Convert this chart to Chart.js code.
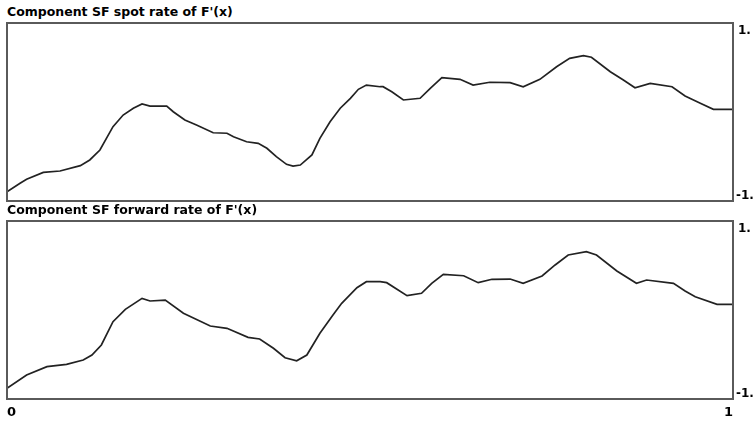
<!DOCTYPE html>
<html>
<head>
<meta charset="utf-8">
<script src="https://cdn.jsdelivr.net/npm/chart.js@4/dist/chart.umd.min.js"></script>
<style>
  html, body { margin: 0; padding: 0; background: #fff; }
  body { width: 755px; height: 422px; position: relative; overflow: hidden; }
  .panel { position: absolute; left: 0; width: 755px; height: 211px; }
  .title {
    position: absolute; left: 7px; margin: 0;
    font-family: "DejaVu Sans", sans-serif; font-weight: bold; font-size: 12.5px;
    line-height: 14px; color: #000; white-space: nowrap;
  }
</style>
</head>
<body>
<div class="title" id="t1" style="top:5px"></div>
<div class="panel" style="top:0"><canvas id="c1"></canvas></div>
<div class="title" id="t2" style="top:203px"></div>
<div class="panel" style="top:211px"><canvas id="c2"></canvas></div>
<script>
// Panel titles
const panelTitles = ["Component SF spot rate of F'(x)", "Component SF forward rate of F'(x)"];

// Axis ranges and labelled ticks
const xTickValues = [0, 1];
const xTickLabels = ['0', '1'];
const yTickValues = [-1, 1];
const yTickLabels = ['-1.', '1.'];

// Spot rate component
const spotX = [0.000, 0.018, 0.027, 0.050, 0.073, 0.101, 0.114, 0.128, 0.146, 0.160,
  0.174, 0.186, 0.197, 0.220, 0.229, 0.245, 0.261, 0.284, 0.303, 0.312,
  0.330, 0.346, 0.358, 0.371, 0.385, 0.394, 0.404, 0.420, 0.431, 0.445,
  0.459, 0.473, 0.484, 0.495, 0.514, 0.518, 0.530, 0.546, 0.569, 0.583,
  0.599, 0.624, 0.642, 0.665, 0.693, 0.711, 0.734, 0.757, 0.775, 0.794,
  0.805, 0.831, 0.849, 0.865, 0.886, 0.916, 0.934, 0.955, 0.973, 1.000];
const spotRate = [-0.896, -0.801, -0.756, -0.678, -0.663, -0.603, -0.539, -0.427, -0.165, -0.034,
  0.042, 0.090, 0.067, 0.067, 0.003, -0.090, -0.146, -0.233, -0.239, -0.278,
  -0.334, -0.352, -0.408, -0.502, -0.588, -0.607, -0.596, -0.483, -0.296, -0.109,
  0.042, 0.154, 0.255, 0.303, 0.284, 0.284, 0.228, 0.135, 0.154, 0.266,
  0.385, 0.367, 0.303, 0.334, 0.329, 0.284, 0.367, 0.509, 0.603, 0.633,
  0.615, 0.453, 0.360, 0.273, 0.322, 0.284, 0.180, 0.098, 0.030, 0.030];

// Forward rate component
const forwardX = [0.000, 0.027, 0.055, 0.082, 0.105, 0.117, 0.130, 0.146, 0.163, 0.186,
  0.197, 0.218, 0.243, 0.280, 0.303, 0.332, 0.348, 0.367, 0.383, 0.399,
  0.413, 0.431, 0.449, 0.461, 0.482, 0.495, 0.514, 0.523, 0.551, 0.571,
  0.585, 0.601, 0.629, 0.649, 0.668, 0.693, 0.711, 0.737, 0.755, 0.773,
  0.798, 0.812, 0.840, 0.867, 0.881, 0.918, 0.934, 0.948, 0.978, 1.000];
const forwardRate = [-0.880, -0.730, -0.637, -0.610, -0.562, -0.506, -0.393, -0.131, 0.008, 0.131,
  0.101, 0.112, -0.037, -0.180, -0.206, -0.307, -0.326, -0.430, -0.536, -0.570,
  -0.506, -0.262, -0.056, 0.075, 0.251, 0.318, 0.318, 0.307, 0.161, 0.188,
  0.300, 0.401, 0.385, 0.307, 0.345, 0.348, 0.300, 0.382, 0.506, 0.618,
  0.655, 0.618, 0.438, 0.300, 0.337, 0.300, 0.213, 0.149, 0.064, 0.064];

document.getElementById('t1').textContent = panelTitles[0];
document.getElementById('t2').textContent = panelTitles[1];

const FRAME = '#5a5a5a';
const INK = '#000';

// Frame around the plot area plus the end-point tick labels
const framePlugin = {
  id: 'frameAndTicks',
  afterDraw(chart, args, opts) {
    const { ctx, chartArea: a, scales } = chart;
    ctx.save();
    ctx.strokeStyle = FRAME;
    ctx.lineWidth = 2;
    ctx.strokeRect(a.left, a.top, a.right - a.left, a.bottom - a.top);

    ctx.fillStyle = INK;
    ctx.font = 'bold 12px "DejaVu Sans", sans-serif';
    ctx.textAlign = 'left';
    const y = scales.y;
    yTickValues.forEach((v, i) => {
      const py = y.getPixelForValue(v);
      if (v === y.max) {
        ctx.textBaseline = 'top';
        ctx.fillText(yTickLabels[i], a.right + 5, py + 2);
      } else {
        ctx.textBaseline = 'bottom';
        ctx.fillText(yTickLabels[i], a.right + 3, py + 1);
      }
    });

    if (opts.xLabels) {
      const x = scales.x;
      ctx.font = 'bold 13px "DejaVu Sans", sans-serif';
      ctx.textBaseline = 'top';
      xTickValues.forEach((v, i) => {
        const px = x.getPixelForValue(v);
        ctx.textAlign = v === x.min ? 'left' : 'right';
        ctx.fillText(xTickLabels[i], px, a.bottom + 7);
      });
    }
    ctx.restore();
  }
};

function makePanel(canvasId, xs, ys, padding, xLabels) {
  return new Chart(document.getElementById(canvasId), {
    type: 'line',
    data: {
      datasets: [{
        data: xs.map((x, i) => ({ x, y: ys[i] })),
        borderColor: '#222',
        borderWidth: 1.7,
        pointRadius: 0,
        tension: 0,
        fill: false
      }]
    },
    options: {
      responsive: true,
      maintainAspectRatio: false,
      animation: false,
      events: [],
      layout: { padding },
      plugins: {
        legend: { display: false },
        tooltip: { enabled: false },
        title: { display: false },
        frameAndTicks: { xLabels }
      },
      scales: {
        x: { type: 'linear', min: xTickValues[0], max: xTickValues[1], display: false },
        y: { type: 'linear', min: yTickValues[0], max: yTickValues[1], display: false }
      }
    },
    plugins: [framePlugin]
  });
}

makePanel('c1', spotX, spotRate, { left: 7, right: 22, top: 23, bottom: 10 }, false);
makePanel('c2', forwardX, forwardRate, { left: 7, right: 22, top: 10, bottom: 23 }, true);
</script>
</body>
</html>
